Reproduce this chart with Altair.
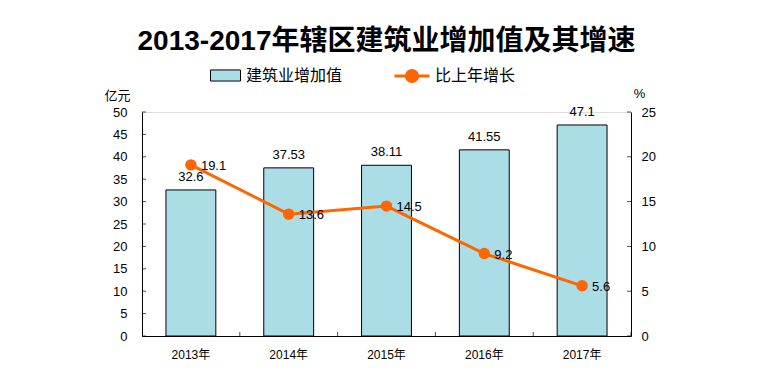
import altair as alt
import pandas as pd

years = ["2013年", "2014年", "2015年", "2016年", "2017年"]
value_added = [32.6, 37.53, 38.11, 41.55, 47.1]
growth = [19.1, 13.6, 14.5, 9.2, 5.6]
left_ticks = [0, 5, 10, 15, 20, 25, 30, 35, 40, 45, 50]
right_ticks = [0, 5, 10, 15, 20, 25]
bar_name = "建筑业增加值"
line_name = "比上年增长"
title_text = "2013-2017年辖区建筑业增加值及其增速"

FONT = "Liberation Sans, Noto Sans CJK SC, sans-serif"
BAR_COLOR = "#abdde7"
LINE_COLOR = "#ff6600"
W, H = 489, 224

df = pd.DataFrame({
    "year": years,
    "value": value_added,
    "growth": growth,
    "vlabel": [str(v) for v in value_added],
    "glabel": [str(v) for v in growth],
    "bs": bar_name,
    "ls": line_name,
})
lt = pd.DataFrame({"t": left_ticks})
rt = pd.DataFrame({"t": right_ticks})

xscale = alt.Scale(domain=years, paddingInner=0.49, paddingOuter=0.245)
lscale = alt.Scale(domain=[0, 50])
rscale = alt.Scale(domain=[0, 25])

XAXIS = alt.Axis(title=None, labelAngle=0, ticks=False, labelPadding=13,
                 labelFontSize=12, labelFont=FONT, labelColor="black",
                 domainColor="black", grid=False)
LAXIS = alt.Axis(values=left_ticks, title="亿元", titleAngle=0, titleX=-25, titleY=-17,
                 titleAlign="center", titleBaseline="middle", titleFontSize=13,
                 titleFontWeight="normal", titleFont=FONT, titleColor="black",
                 ticks=False, labelPadding=15, labelFontSize=13, labelFont=FONT,
                 labelColor="black", labelOverlap=False, domainColor="black", grid=False)
RAXIS = alt.Axis(values=right_ticks, orient="right", title="%", titleAngle=0,
                 titleX=8, titleY=-19, titleAlign="center", titleBaseline="middle",
                 titleFontSize=13, titleFontWeight="normal", titleFont=FONT,
                 titleColor="black", ticks=False, labelPadding=10, labelFontSize=13,
                 labelFont=FONT, labelColor="black", labelOverlap=False,
                 domainColor="black", grid=False)

x_enc = alt.X("year:N", scale=xscale, sort=years, axis=XAXIS, title=None)

bars = alt.Chart(df).mark_bar(stroke="black", strokeWidth=1).encode(
    x=x_enc,
    y=alt.Y("value:Q", scale=lscale, axis=LAXIS, title="亿元"),
    color=alt.Color("bs:N", scale=alt.Scale(domain=[bar_name], range=[BAR_COLOR]),
                    legend=alt.Legend(title=None, orient="none", legendX=68, legendY=-52,
                                      padding=0, symbolType="M-1,-0.37L1,-0.37L1,0.37L-1,0.37Z",
                                      symbolSize=900, symbolStrokeColor="black",
                                      symbolStrokeWidth=1, labelFontSize=16, labelFont=FONT,
                                      labelColor="black", labelOffset=5)),
)
bar_text = alt.Chart(df).mark_text(dy=-9, baseline="alphabetic", fontSize=13, font=FONT,
                                   color="black").encode(
    x=x_enc,
    y=alt.Y("value:Q", scale=lscale, axis=LAXIS, title="亿元"),
    text="vlabel:N",
)
lticks = alt.Chart(lt).mark_tick(orient="horizontal", size=4, thickness=1, color="black").encode(
    x=alt.value(2), y=alt.Y("t:Q", scale=lscale, axis=LAXIS, title="亿元"))
xticks = alt.Chart(df).mark_tick(orient="vertical", size=4, thickness=1, color="black",
                                 xOffset=48.9).encode(
    x=x_enc, y=alt.value(H - 2))

line = alt.Chart(df).mark_line(strokeWidth=3,
                               point=alt.OverlayMarkDef(filled=True, size=130)).encode(
    x=x_enc,
    y=alt.Y("growth:Q", scale=rscale, axis=RAXIS, title="%"),
    color=alt.Color("ls:N", scale=alt.Scale(domain=[line_name], range=[LINE_COLOR]),
                    legend=alt.Legend(title=None, orient="none", legendX=251, legendY=-55,
                                      padding=0,
                                      symbolType="M-1,0L1,0M0.32,0A0.32,0.32,0,1,1,-0.32,0A0.32,0.32,0,1,1,0.32,0Z",
                                      symbolSize=1225, symbolStrokeColor=LINE_COLOR,
                                      symbolFillColor=LINE_COLOR, symbolStrokeWidth=3,
                                      labelFontSize=16, labelFont=FONT, labelColor="black",
                                      labelOffset=4)),
)
line_text = alt.Chart(df).mark_text(dx=10, dy=1, align="left", baseline="middle", fontSize=13,
                                    font=FONT, color="black").encode(
    x=x_enc,
    y=alt.Y("growth:Q", scale=rscale, axis=RAXIS, title="%"),
    text="glabel:N",
)
rticks = alt.Chart(rt).mark_tick(orient="horizontal", size=4, thickness=1, color="black").encode(
    x=alt.value(W - 2), y=alt.Y("t:Q", scale=rscale, axis=RAXIS, title="%"))

left = alt.layer(bars, bar_text, lticks, xticks)
right = alt.layer(line, line_text, rticks)

chart = alt.layer(left, right).resolve_scale(y="independent", color="independent").properties(
    width=W, height=H,
    autosize=alt.AutoSizeParams(type="none"),
    padding={"left": 134, "top": 104, "right": 129, "bottom": 30},
    title=alt.TitleParams(title_text, fontSize=28, fontWeight="bold", font=FONT, color="black",
                          anchor="middle", offset=1),
).configure_view(stroke=None).configure(background="white")

chart.save("out.html", embed_options={"renderer": "svg", "actions": False})
